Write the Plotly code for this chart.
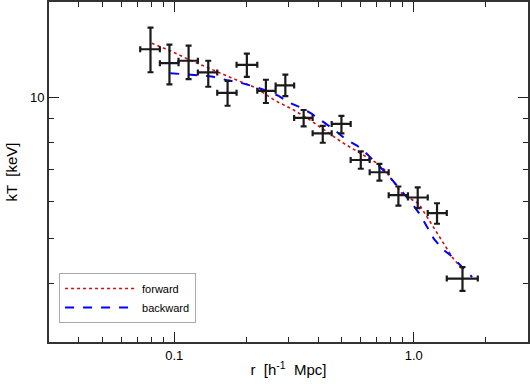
import plotly.graph_objects as go

# measured temperature profile
r_mid = [0.0796, 0.0955, 0.1148, 0.1387, 0.167, 0.201, 0.2414, 0.291, 0.347,
         0.417, 0.499, 0.601, 0.719, 0.863, 1.039, 1.251, 1.598]
r_lo = [0.0721, 0.0871, 0.1042, 0.1255, 0.1512, 0.1821, 0.2222, 0.2651, 0.3167,
        0.3783, 0.4544, 0.5453, 0.6548, 0.7862, 0.9458, 1.144, 1.374]
r_hi = [0.0871, 0.1042, 0.1255, 0.1512, 0.1821, 0.2222, 0.2651, 0.3167, 0.3783,
        0.4544, 0.5453, 0.6548, 0.7862, 0.9458, 1.144, 1.374, 1.851]
kT = [12.68, 11.84, 11.98, 11.31, 10.23, 11.74, 10.33, 10.61, 9.04,
      8.38, 8.78, 7.35, 6.92, 6.18, 6.11, 5.66, 4.10]
kT_lo = [11.32, 10.66, 10.94, 10.54, 9.60, 11.07, 9.73, 10.07, 8.67,
         8.00, 8.38, 7.04, 6.64, 5.87, 5.80, 5.37, 3.86]
kT_hi = [14.10, 12.97, 12.91, 11.98, 10.85, 12.41, 10.91, 11.19, 9.40,
         8.69, 9.13, 7.67, 7.21, 6.45, 6.42, 5.94, 4.34]

# forward model
r_fwd = [0.0806, 0.0977, 0.1159, 0.139, 0.1633, 0.1857, 0.218, 0.2643, 0.31, 0.364,
         0.4276, 0.5017, 0.589, 0.692, 0.7615, 0.8937, 1.049, 1.232, 1.446, 1.607]
kT_fwd = [13.06, 12.54, 12.03, 11.58, 11.16, 10.85, 10.50, 9.84, 9.45, 8.99,
          8.49, 8.02, 7.63, 7.27, 6.98, 6.22, 5.93, 5.20, 4.56, 4.27]

# backward model
r_bwd = [0.0962, 0.1148, 0.1436, 0.166, 0.1916, 0.218, 0.2438, 0.2728, 0.3003, 0.3413,
         0.3758, 0.4276, 0.471, 0.5184, 0.5795, 0.638, 0.7025, 0.7615, 0.8385, 0.908,
         0.984, 1.067, 1.137, 1.212, 1.313, 1.423, 1.591, 1.753]
kT_bwd = [11.27, 11.18, 11.09, 10.89, 10.73, 10.54, 10.33, 10.08, 9.76, 9.49,
          9.22, 8.80, 8.49, 8.15, 7.89, 7.57, 7.21, 6.92, 6.54, 6.22,
          5.93, 5.60, 5.28, 4.99, 4.75, 4.60, 4.34, 4.13]

FONT = "Liberation Sans, Arial"

fig = go.Figure()

fig.add_trace(go.Scatter(
    x=r_fwd, y=kT_fwd, mode="lines", name="forward",
    line=dict(color="#d01010", dash="dot", width=1.6),
))
fig.add_trace(go.Scatter(
    x=r_bwd, y=kT_bwd, mode="lines", name="backward",
    line=dict(color="#0000ff", dash="dash", width=2),
))
fig.add_trace(go.Scatter(
    x=r_mid, y=kT, mode="markers", showlegend=False,
    marker=dict(size=1, color="rgba(0,0,0,0)"),
    error_x=dict(type="data", symmetric=False,
                 array=[h - m for h, m in zip(r_hi, r_mid)],
                 arrayminus=[m - l for m, l in zip(r_mid, r_lo)],
                 color="#1a1a1a", thickness=2.2, width=3),
    error_y=dict(type="data", symmetric=False,
                 array=[h - m for h, m in zip(kT_hi, kT)],
                 arrayminus=[m - l for m, l in zip(kT, kT_lo)],
                 color="#1a1a1a", thickness=2.2, width=3),
))

axis_style = dict(
    type="log", showgrid=False, zeroline=False, automargin=False,
    showline=True, linecolor="#333333", linewidth=2, mirror="ticks",
    ticks="inside", ticklen=10, tickwidth=1.2, tickcolor="#222222",
    tickfont=dict(family=FONT, size=13, color="black"),
)

fig.update_xaxes(
    **axis_style,
    range=[-1.5229, 0.4771],
    tickvals=[0.1, 1.0], ticktext=["0.1", "1.0"],
    minor=dict(tickmode="array",
               tickvals=[0.04, 0.05, 0.06, 0.07, 0.08, 0.09,
                         0.2, 0.3, 0.4, 0.5, 0.6, 0.7, 0.8, 0.9, 2, 3],
               ticks="inside", ticklen=5, tickwidth=1.2, tickcolor="#222222"),
    title=dict(text="r  [h<sup>-1</sup>  Mpc]", standoff=3,
               font=dict(family=FONT, size=15, color="black")),
)
fig.update_yaxes(
    **axis_style,
    range=[0.4771, 1.2041],
    tickvals=[10], ticktext=["10"],
    minor=dict(tickmode="array", tickvals=[4, 5, 6, 7, 8, 9],
               ticks="inside", ticklen=5, tickwidth=1.2, tickcolor="#222222"),
    title=dict(text="kT  [keV]", standoff=9,
               font=dict(family=FONT, size=15, color="black")),
)

fig.update_layout(
    width=531, height=387,
    margin=dict(l=49, r=3, t=2, b=45),
    plot_bgcolor="white", paper_bgcolor="white",
    legend=dict(x=0.021, y=0.056, xanchor="left", yanchor="bottom",
                bgcolor="white", bordercolor="#aaaaaa", borderwidth=1,
                font=dict(family=FONT, size=11, color="black"),
                tracegroupgap=0, itemwidth=72),
)

fig.write_html(
    "out.html",
    config={"displayModeBar": False},
    post_script="document.body.style.margin='0';document.body.style.overflow='hidden';",
)
